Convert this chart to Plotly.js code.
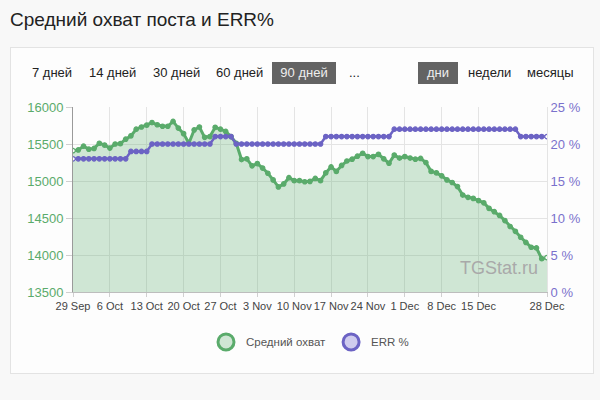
<!DOCTYPE html>
<html>
<head>
<meta charset="utf-8">
<script src="https://cdn.plot.ly/plotly-3.0.1.min.js"></script>
<style>
  html, body { margin:0; padding:0; width:600px; height:400px; background:#f8f8f8; overflow:hidden;
    font-family: "Liberation Sans", Arial, Helvetica, sans-serif; }
  #title { position:absolute; left:10px; top:9px; font-size:19px; color:#222; white-space:nowrap; }
  #panel { position:absolute; left:10px; top:47px; width:584px; height:327px; background:#fdfdfd;
    border:1px solid #e3e3e3; box-sizing:border-box; }
  .btn { position:absolute; top:62px; height:22px; line-height:22px; font-size:13px; color:#222; white-space:nowrap; }
  .sel { background:#636363; color:#eee; text-align:center; }
  #chart { position:absolute; left:0; top:0; width:600px; height:400px; }
</style>
</head>
<body>
<div id="title">Средний охват поста и ERR%</div>
<div id="panel"></div>
<div class="btn" style="left:32px">7 дней</div>
<div class="btn" style="left:89px">14 дней</div>
<div class="btn" style="left:153px">30 дней</div>
<div class="btn" style="left:216px">60 дней</div>
<div class="btn sel" style="left:272px;width:64px">90 дней</div>
<div class="btn" style="left:349px">...</div>
<div class="btn sel" style="left:418px;width:40px">дни</div>
<div class="btn" style="left:468px">недели</div>
<div class="btn" style="left:527px">месяцы</div>
<div id="chart"></div>
<script>
const dates = [
 "2019-09-29","2019-09-30","2019-10-01","2019-10-02","2019-10-03","2019-10-04","2019-10-05",
 "2019-10-06","2019-10-07","2019-10-08","2019-10-09","2019-10-10","2019-10-11","2019-10-12",
 "2019-10-13","2019-10-14","2019-10-15","2019-10-16","2019-10-17","2019-10-18","2019-10-19",
 "2019-10-20","2019-10-21","2019-10-22","2019-10-23","2019-10-24","2019-10-25","2019-10-26",
 "2019-10-27","2019-10-28","2019-10-29","2019-10-30","2019-10-31","2019-11-01","2019-11-02",
 "2019-11-03","2019-11-04","2019-11-05","2019-11-06","2019-11-07","2019-11-08","2019-11-09",
 "2019-11-10","2019-11-11","2019-11-12","2019-11-13","2019-11-14","2019-11-15","2019-11-16",
 "2019-11-17","2019-11-18","2019-11-19","2019-11-20","2019-11-21","2019-11-22","2019-11-23",
 "2019-11-24","2019-11-25","2019-11-26","2019-11-27","2019-11-28","2019-11-29","2019-11-30",
 "2019-12-01","2019-12-02","2019-12-03","2019-12-04","2019-12-05","2019-12-06","2019-12-07",
 "2019-12-08","2019-12-09","2019-12-10","2019-12-11","2019-12-12","2019-12-13","2019-12-14",
 "2019-12-15","2019-12-16","2019-12-17","2019-12-18","2019-12-19","2019-12-20","2019-12-21",
 "2019-12-22","2019-12-23","2019-12-24","2019-12-25","2019-12-26","2019-12-27","2019-12-28"
];
const reach = [
 15410,15420,15470,15430,15440,15510,15485,15445,15500,15505,
 15565,15610,15700,15730,15755,15790,15760,15740,15740,15805,
 15715,15640,15510,15690,15730,15590,15600,15725,15700,15670,
 15600,15510,15290,15300,15205,15235,15175,15105,15015,14920,
 14960,15045,15005,15005,14990,14995,15035,15005,15110,15190,
 15130,15210,15270,15295,15335,15375,15330,15330,15360,15300,
 15240,15350,15310,15330,15310,15295,15305,15250,15130,15110,
 15070,15015,14980,14925,14810,14780,14765,14735,14705,14630,
 14585,14535,14465,14385,14320,14240,14170,14105,14095,13950,
 13965
];
const err = [
 18,18,18,18,18,18,18,18,18,18,
 18,19,19,19,19,20,20,20,20,20,
 20,20,20,20,20,20,20,21,21,21,
 21,20,20,20,20,20,20,20,20,20,
 20,20,20,20,20,20,20,20,21,21,
 21,21,21,21,21,21,21,21,21,21,
 21,22,22,22,22,22,22,22,22,22,
 22,22,22,22,22,22,22,22,22,22,
 22,22,22,22,22,21,21,21,21,21,
 21
];
const tickDates = ["2019-09-29","2019-10-06","2019-10-13","2019-10-20","2019-10-27","2019-11-03",
 "2019-11-10","2019-11-17","2019-11-24","2019-12-01","2019-12-08","2019-12-15","2019-12-28"];
const tickLabels = ["29 Sep","6 Oct","13 Oct","20 Oct","27 Oct","3 Nov","10 Nov","17 Nov",
 "24 Nov","1 Dec","8 Dec","15 Dec","28 Dec"];
const reachTicks = [13500,14000,14500,15000,15500,16000];
const errTicks = [0,5,10,15,20,25];
const names = ["Средний охват","ERR %"];

const G = "#5aab6b", GF = "rgba(90,171,107,0.28)", P = "#6c63c4", PF = "#cfcbee";
const endCol = (c, n) => Array.from({length:n}, (_, i) => (i === 0 || i === n-1) ? "#ffffff" : c);

const traces = [
  { x: dates, y: reach, type: "scatter", mode: "lines+markers", yaxis: "y", fill: "tozeroy",
    fillcolor: GF, line: { color: G, width: 3 }, showlegend: false, hoverinfo: "skip",
    marker: { size: 4.5, color: endCol(G, reach.length), line: { color: G, width: 1.2 } } },
  { x: dates, y: err, type: "scatter", mode: "lines+markers", yaxis: "y2",
    line: { color: P, width: 2.5 }, showlegend: false, hoverinfo: "skip",
    marker: { size: 4.5, color: endCol(P, err.length), line: { color: P, width: 1.2 } } },
  { x: [null], y: [null], type: "scatter", mode: "markers", name: names[0], showlegend: true,
    marker: { size: 16, color: "#cfe6d4", line: { color: G, width: 3 } } },
  { x: [null], y: [null], type: "scatter", mode: "markers", name: names[1], showlegend: true, yaxis: "y2",
    marker: { size: 16, color: PF, line: { color: P, width: 3 } } }
];

const layout = {
  width: 600, height: 400,
  margin: { l: 73, r: 53, t: 107, b: 108, pad: 0 },
  paper_bgcolor: "rgba(0,0,0,0)", plot_bgcolor: "rgba(0,0,0,0)",
  font: { family: "Liberation Sans, Arial, sans-serif", color: "#333" },
  xaxis: { type: "date", range: ["2019-09-29", "2019-12-28"], tickvals: tickDates, ticktext: tickLabels,
    tickangle: 0, tickfont: { size: 11, color: "#444" }, showgrid: true, gridcolor: "#e4e4e4", gridwidth: 1,
    showline: true, linecolor: "#bdbdbd", ticks: "outside", ticklen: 4, tickcolor: "#d0d0d0",
    zeroline: false, fixedrange: true },
  yaxis: { range: [13500, 16000], tickvals: reachTicks, ticktext: reachTicks.map(String),
    tickfont: { size: 13, color: "#5aab6b" },
    showgrid: true, gridcolor: "#e4e4e4", showline: true, linecolor: "#9a9a9a",
    ticks: "outside", ticklen: 6, tickcolor: "#cfcfcf", zeroline: false, fixedrange: true },
  yaxis2: { range: [0, 25], tickvals: errTicks, ticktext: errTicks.map(v => v + " %"), overlaying: "y", side: "right",
    tickfont: { size: 13, color: "#7a71cc" }, showgrid: false, showline: true, linecolor: "#e4e4e4",
    zeroline: false, ticks: "", fixedrange: true },
  legend: { orientation: "h", x: 0.5, xanchor: "center", y: -0.27, yanchor: "middle",
    font: { size: 11.5, color: "#555" }, itemsizing: "trace", bgcolor: "rgba(0,0,0,0)" },
  annotations: [
    { text: "TGStat.ru", xref: "paper", yref: "paper", x: 0.985, y: 0.13, xanchor: "right", yanchor: "middle",
      showarrow: false, font: { size: 18, color: "#a9a9a9" } }
  ]
};

Plotly.newPlot("chart", traces, layout, { displayModeBar: false, staticPlot: true });
</script>
</body>
</html>
